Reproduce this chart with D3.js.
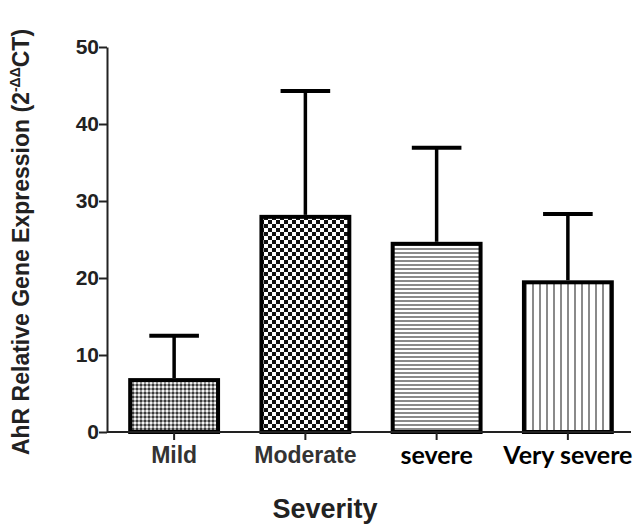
<!DOCTYPE html>
<html><head><meta charset="utf-8">
<script src="https://cdn.jsdelivr.net/npm/d3@7"></script>
<style>html,body{margin:0;padding:0;background:#fff;}</style>
</head><body>
<svg id="c" width="636" height="525"></svg>
<script>
const categories = ["Mild", "Moderate", "severe", "Very severe"];
const means = [7.0, 28.2, 24.7, 19.7];
const errors = [5.5, 16.1, 12.2, 8.6];
const yTicks = [0, 10, 20, 30, 40, 50];
const patterns = ["pMild", "pMod", "pSev", "pVsev"];

const svg = d3.select("#c");
const defs = svg.append("defs");
// Mild: fine dotted pattern
let p = defs.append("pattern").attr("id","pMild").attr("patternUnits","userSpaceOnUse").attr("width",4).attr("height",4);
p.append("rect").attr("width",4).attr("height",4).attr("fill","#9a9a9a");
p.append("rect").attr("x",0).attr("y",0).attr("width",2).attr("height",2).attr("fill","#3a3a3a");
p.append("rect").attr("x",2).attr("y",2).attr("width",2).attr("height",2).attr("fill","#f4f4f4");
// Moderate: checkerboard
p = defs.append("pattern").attr("id","pMod").attr("patternUnits","userSpaceOnUse").attr("width",8).attr("height",8);
p.append("rect").attr("width",8).attr("height",8).attr("fill","#fff");
p.append("rect").attr("x",0).attr("y",0).attr("width",4).attr("height",4).attr("fill","#111");
p.append("rect").attr("x",4).attr("y",4).attr("width",4).attr("height",4).attr("fill","#111");
// Severe: horizontal lines
p = defs.append("pattern").attr("id","pSev").attr("patternUnits","userSpaceOnUse").attr("width",8).attr("height",4);
p.append("rect").attr("width",8).attr("height",4).attr("fill","#fff");
p.append("rect").attr("x",0).attr("y",0).attr("width",8).attr("height",2).attr("fill","#8a8a8a");
// Very severe: vertical lines
p = defs.append("pattern").attr("id","pVsev").attr("patternUnits","userSpaceOnUse").attr("width",7).attr("height",8);
p.append("rect").attr("width",7).attr("height",8).attr("fill","#fff");
p.append("rect").attr("x",0).attr("y",0).attr("width",2).attr("height",8).attr("fill","#8a8a8a");

const x = d3.scaleBand().domain(categories).range([108.5, 633.5]).paddingInner(0.3).paddingOuter(0.15);
const y = d3.scaleLinear().domain([0, 50]).range([432, 47]);

const bw = x.bandwidth();
// error bars
const g = svg.append("g");
categories.forEach((c, i) => {
  const cx = x(c) + bw / 2;
  g.append("line").attr("x1", cx).attr("x2", cx).attr("y1", y(means[i])).attr("y2", y(means[i] + errors[i]))
    .attr("stroke", "#000").attr("stroke-width", 3.5);
  g.append("line").attr("x1", cx - bw * 0.27).attr("x2", cx + bw * 0.27)
    .attr("y1", y(means[i] + errors[i])).attr("y2", y(means[i] + errors[i]))
    .attr("stroke", "#000").attr("stroke-width", 4);
});
// bars
g.selectAll("rect.bar").data(categories).enter().append("rect").attr("class","bar")
  .attr("x", d => x(d) + 2).attr("width", bw - 4)
  .attr("y", (d, i) => y(means[i]) + 2).attr("height", (d, i) => y(0) - y(means[i]) - 2)
  .attr("fill", (d, i) => `url(#${patterns[i]})`)
  .attr("stroke", "#000").attr("stroke-width", 4);

// y axis
const ya = svg.append("g").attr("transform", "translate(107,0)")
  .call(d3.axisLeft(y).tickValues(yTicks).tickSize(8).tickSizeOuter(0));
ya.select(".domain").attr("stroke", "#222").attr("stroke-width", 2);
ya.selectAll(".tick line").attr("stroke", "#222").attr("stroke-width", 2);
ya.selectAll(".tick text").attr("font-family", "Liberation Sans, Arial, sans-serif")
  .attr("font-size", 21).attr("font-weight", "bold").attr("fill", "#222").attr("x", -8);

// x axis
const xa = svg.append("g").attr("transform", "translate(0,432)")
  .call(d3.axisBottom(x).tickSize(8).tickSizeOuter(0));
xa.select(".domain").remove();
xa.append("line").attr("x1", 107).attr("x2", 631).attr("y1", 0).attr("y2", 0).attr("stroke", "#222").attr("stroke-width", 2);
xa.selectAll(".tick line").attr("stroke", "#222").attr("stroke-width", 2);
xa.selectAll(".tick text").attr("dy", null).attr("y", 31).each(function(d, i) {
  const t = d3.select(this);
  if (i < 2) {
    t.attr("font-family", "Liberation Sans, Arial, sans-serif").attr("font-size", 23)
      .attr("font-weight", "bold").attr("fill", "#333");
  } else {
    t.attr("font-family", "Lato, Open Sans, sans-serif").attr("font-size", 25)
      .attr("font-weight", "bold").attr("fill", "#000").attr("y", 32);
  }
});

// axis titles
svg.append("text").attr("x", 325).attr("y", 518).attr("text-anchor", "middle")
  .attr("font-family", "Liberation Sans, Arial, sans-serif").attr("font-size", 27)
  .attr("font-weight", "bold").attr("fill", "#222").text("Severity");

const yt = svg.append("text").attr("transform", "translate(29,242) rotate(-90)")
  .attr("text-anchor", "middle")
  .attr("font-family", "Liberation Sans, Arial, sans-serif").attr("font-size", 23)
  .attr("font-weight", "bold").attr("fill", "#222");
yt.append("tspan").text("AhR Relative Gene Expression (2");
yt.append("tspan").attr("font-size", 14).attr("dy", -9).text("-ΔΔ");
yt.append("tspan").attr("dy", 9).text("CT)");
</script>
</body></html>
